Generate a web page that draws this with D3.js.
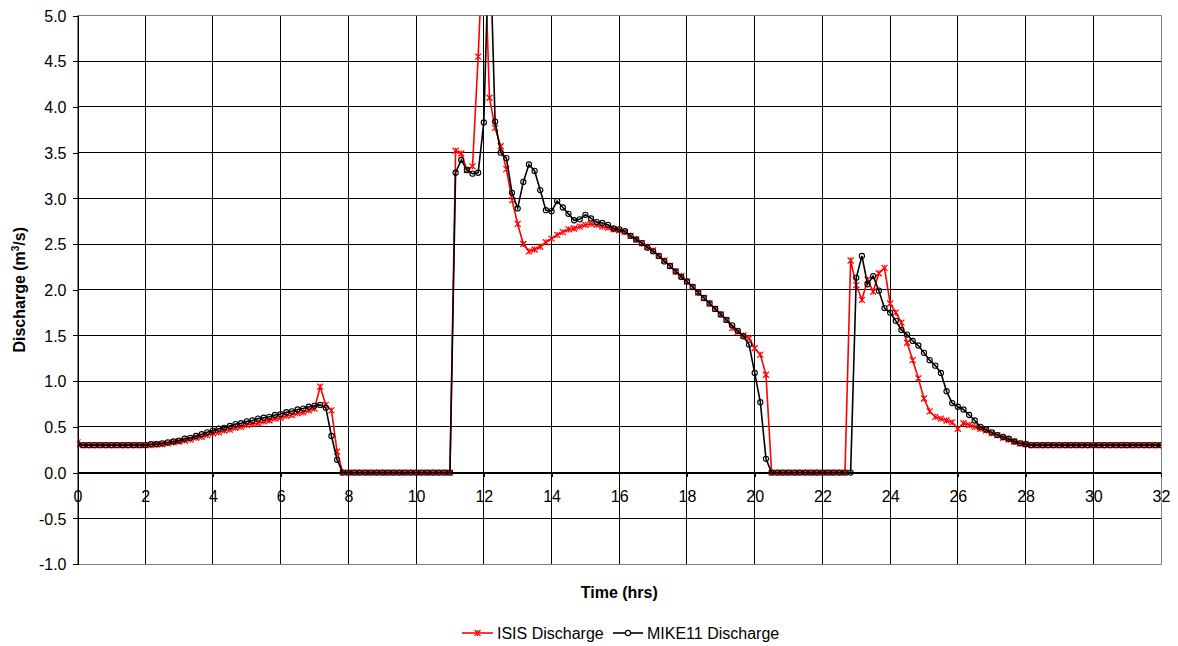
<!DOCTYPE html>
<html>
<head>
<meta charset="utf-8">
<script src="https://cdn.jsdelivr.net/npm/d3@7"></script>
<style>
  body { margin: 0; background: #fff; }
  text { font-family: "Liberation Sans", Arial, sans-serif; fill: #000; }
</style>
</head>
<body>
<div id="chart"></div>
<script>
const width = 1178;
const height = 646;

// readings every 10 minutes, 0 to 32 hrs
const timeStep = 1 / 6;

const isisDischarge = [
  0.33, 0.30, 0.30, 0.30, 0.30, 0.30, 0.30, 0.30, 0.30, 0.30, 0.30, 0.30, 0.30,
  0.30, 0.31, 0.31, 0.32, 0.33, 0.34, 0.35, 0.36, 0.38, 0.39, 0.41, 0.43, 0.44, 0.46, 0.47,
  0.49, 0.50, 0.52, 0.53, 0.54, 0.56, 0.57, 0.59, 0.60, 0.62, 0.63, 0.65, 0.66, 0.68, 0.70,
  0.94, 0.74, 0.68, 0.23, 0.00,
  0, 0, 0, 0, 0, 0, 0, 0, 0, 0, 0, 0, 0, 0, 0, 0, 0, 0, 0,
  3.52, 3.49, 3.31, 3.35, 4.55, 6.00,
  4.10, 3.77, 3.57, 3.32, 2.98, 2.72, 2.50, 2.42, 2.44, 2.47, 2.52,
  2.56, 2.60, 2.63, 2.66, 2.67, 2.69, 2.71, 2.72, 2.71, 2.69, 2.68, 2.66,
  2.65, 2.63, 2.59, 2.55, 2.51, 2.47, 2.43, 2.37, 2.32, 2.26, 2.20, 2.15,
  2.09, 2.03, 1.97, 1.91, 1.85, 1.79, 1.73, 1.67, 1.58, 1.54, 1.50, 1.47,
  1.36, 1.29, 1.07, 0.00,
  0, 0, 0, 0, 0, 0, 0, 0, 0, 0, 0, 0, 0,
  2.32, 2.05, 1.89, 2.11, 1.98, 2.18, 2.24,
  1.85, 1.75, 1.64, 1.42, 1.23, 1.03, 0.81, 0.67, 0.61, 0.59, 0.57, 0.55,
  0.48, 0.54, 0.52, 0.50, 0.48, 0.46, 0.43, 0.41, 0.38, 0.36, 0.34, 0.32,
  0.31, 0.30, 0.30, 0.30, 0.30, 0.30, 0.30, 0.30, 0.30, 0.30, 0.30, 0.30,
  0.30, 0.30, 0.30, 0.30, 0.30, 0.30, 0.30, 0.30, 0.30, 0.30, 0.30, 0.30, 0.30
];

const mike11Discharge = [
  0.31, 0.30, 0.30, 0.30, 0.30, 0.30, 0.30, 0.30, 0.30, 0.30, 0.30, 0.30, 0.30,
  0.31, 0.31, 0.32, 0.33, 0.34, 0.35, 0.37, 0.38, 0.40, 0.42, 0.44, 0.46, 0.48, 0.49, 0.51,
  0.53, 0.54, 0.56, 0.57, 0.59, 0.60, 0.61, 0.63, 0.64, 0.66, 0.67, 0.69, 0.70, 0.72, 0.73,
  0.74, 0.71, 0.40, 0.14, 0.00,
  0, 0, 0, 0, 0, 0, 0, 0, 0, 0, 0, 0, 0, 0, 0, 0, 0, 0, 0,
  3.28, 3.42, 3.31, 3.27, 3.28, 3.83,
  6.00, 3.84, 3.50, 3.44, 3.06, 2.89, 3.18, 3.37, 3.30, 3.09, 2.87,
  2.86, 2.97, 2.90, 2.83, 2.76, 2.77, 2.82, 2.78, 2.74, 2.73, 2.71, 2.67,
  2.66, 2.64, 2.59, 2.55, 2.51, 2.46, 2.42, 2.37, 2.31, 2.26, 2.20, 2.14,
  2.09, 2.03, 1.97, 1.91, 1.85, 1.79, 1.73, 1.67, 1.61, 1.55, 1.49, 1.40,
  1.09, 0.77, 0.15, 0.00,
  0, 0, 0, 0, 0, 0, 0, 0, 0, 0, 0, 0, 0,
  0.00, 2.13, 2.37, 2.06, 2.15, 1.99, 1.80,
  1.75, 1.66, 1.56, 1.51, 1.44, 1.39, 1.31, 1.23, 1.17, 1.09, 0.89, 0.76,
  0.72, 0.69, 0.63, 0.57, 0.50, 0.47, 0.44, 0.41, 0.39, 0.37, 0.34, 0.32,
  0.31, 0.30, 0.30, 0.30, 0.30, 0.30, 0.30, 0.30, 0.30, 0.30, 0.30, 0.30,
  0.30, 0.30, 0.30, 0.30, 0.30, 0.30, 0.30, 0.30, 0.30, 0.30, 0.30, 0.30, 0.30
];

const xTicks = d3.range(0, 33, 2);
const yTicks = [-1.0, -0.5, 0.0, 0.5, 1.0, 1.5, 2.0, 2.5, 3.0, 3.5, 4.0, 4.5, 5.0];

const times = isisDischarge.map((d, i) => i * timeStep);

const plot = {left: 77.5, right: 1161, top: 15.5, bottom: 564};

const svg = d3.select("#chart")
  .append("svg")
  .attr("width", width)
  .attr("height", height);

const x = d3.scaleLinear().domain([0, 32]).range([plot.left, plot.right]);
const y = d3.scaleLinear().domain([-1, 5]).range([plot.bottom, plot.top]);

// grid
const grid = svg.append("g").attr("shape-rendering", "crispEdges");
grid.selectAll(".vgrid")
  .data(xTicks.slice(1, -1))
  .join("line")
  .attr("x1", d => x(d)).attr("x2", d => x(d))
  .attr("y1", plot.top).attr("y2", plot.bottom)
  .attr("stroke", "#000");
grid.selectAll(".hgrid")
  .data(yTicks.slice(1, -1))
  .join("line")
  .attr("x1", plot.left).attr("x2", plot.right)
  .attr("y1", d => y(d)).attr("y2", d => y(d))
  .attr("stroke", "#000");

// plot border
grid.append("rect")
  .attr("x", plot.left).attr("y", plot.top)
  .attr("width", plot.right - plot.left)
  .attr("height", plot.bottom - plot.top)
  .attr("fill", "none")
  .attr("stroke", "#808080");

// y axis
const yAxis = svg.append("g")
  .attr("transform", `translate(${plot.left},0)`)
  .attr("shape-rendering", "crispEdges")
  .call(d3.axisLeft(y).tickValues(yTicks).tickFormat(d => d.toFixed(1)).tickSize(5).tickPadding(6));
yAxis.select(".domain").attr("stroke", "#000");
yAxis.selectAll(".tick line").attr("stroke", "#000");
yAxis.selectAll("text")
  .attr("font-size", 16)
  .attr("font-family", "Liberation Sans, Arial, sans-serif")
  .attr("dy", "0.36em")
  .attr("fill", "#000");

// x axis sits on zero
const xAxis = svg.append("g")
  .attr("transform", `translate(0,${y(0)})`)
  .attr("shape-rendering", "crispEdges")
  .call(d3.axisBottom(x).tickValues(xTicks).tickSize(4).tickPadding(14));
xAxis.select(".domain").attr("stroke", "#000");
xAxis.selectAll(".tick line").attr("stroke", "#000");
xAxis.selectAll("text")
  .attr("font-size", 16)
  .attr("font-family", "Liberation Sans, Arial, sans-serif")
  .attr("fill", "#000");

// axis titles
svg.append("text")
  .attr("x", (plot.left + plot.right) / 2)
  .attr("y", 598)
  .attr("text-anchor", "middle")
  .attr("font-size", 16)
  .attr("font-weight", "bold")
  .text("Time (hrs)");

const yTitle = svg.append("text")
  .attr("transform", `translate(25,${(plot.top + plot.bottom) / 2}) rotate(-90)`)
  .attr("text-anchor", "middle")
  .attr("font-size", 16)
  .attr("font-weight", "bold");
yTitle.append("tspan").text("Discharge (m");
yTitle.append("tspan").attr("font-size", 10).attr("dy", "-0.6em").text("3");
yTitle.append("tspan").attr("dy", "0.4em").text("/s)");

// series
svg.append("clipPath").attr("id", "plot-clip")
  .append("rect")
  .attr("x", plot.left).attr("y", plot.top)
  .attr("width", plot.right - plot.left)
  .attr("height", plot.bottom - plot.top);

const line = d3.line()
  .x((d, i) => x(times[i]))
  .y(d => y(d));

const xMark = "M-3,-3L3,3M-3,3L3,-3M0,-3L0,-1.5M0,1.5L0,3";

const series = svg.append("g").attr("clip-path", "url(#plot-clip)");

series.append("path")
  .datum(isisDischarge)
  .attr("d", line)
  .attr("fill", "none")
  .attr("stroke", "#ff0000")
  .attr("stroke-width", 1.6);
series.selectAll(".isis-mark")
  .data(isisDischarge)
  .join("path")
  .attr("class", "isis-mark")
  .attr("transform", (d, i) => `translate(${x(times[i])},${y(d)})`)
  .attr("d", xMark)
  .attr("fill", "none")
  .attr("stroke", "#ff0000")
  .attr("stroke-width", 1.2);

series.append("path")
  .datum(mike11Discharge)
  .attr("d", line)
  .attr("fill", "none")
  .attr("stroke", "#000")
  .attr("stroke-width", 1.6);
series.selectAll(".mike-mark")
  .data(mike11Discharge)
  .join("circle")
  .attr("class", "mike-mark")
  .attr("cx", (d, i) => x(times[i]))
  .attr("cy", d => y(d))
  .attr("r", 2.6)
  .attr("fill", "none")
  .attr("stroke", "#000")
  .attr("stroke-width", 1.1);

// legend
const legend = svg.append("g");
legend.append("line")
  .attr("x1", 462).attr("x2", 493).attr("y1", 633).attr("y2", 633)
  .attr("stroke", "#ff0000").attr("stroke-width", 1.6);
legend.append("path")
  .attr("transform", "translate(477.5,633)")
  .attr("d", xMark)
  .attr("fill", "none").attr("stroke", "#ff0000").attr("stroke-width", 1.2);
legend.append("text").attr("x", 497).attr("y", 639).attr("font-size", 16).text("ISIS Discharge");

legend.append("line")
  .attr("x1", 613).attr("x2", 643).attr("y1", 633).attr("y2", 633)
  .attr("stroke", "#000").attr("stroke-width", 1.6);
legend.append("circle")
  .attr("cx", 628).attr("cy", 633).attr("r", 2.6)
  .attr("fill", "#fff").attr("stroke", "#000").attr("stroke-width", 1.1);
legend.append("text").attr("x", 647).attr("y", 639).attr("font-size", 16).text("MIKE11 Discharge");
</script>
</body>
</html>
